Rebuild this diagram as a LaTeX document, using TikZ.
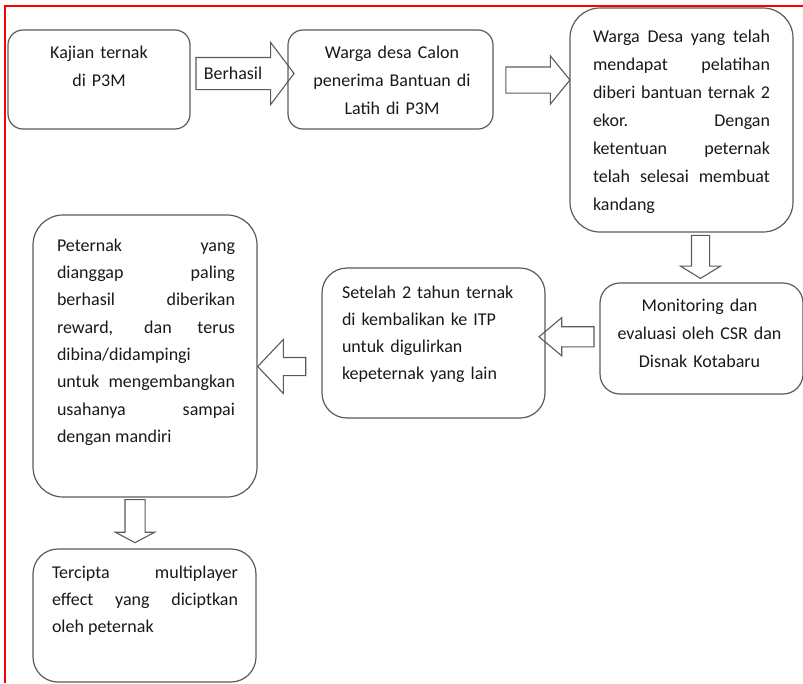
\documentclass[tikz,border=0pt]{standalone}
\usepackage{fontspec}
\setmainfont{Carlito}
\usetikzlibrary{calc, shapes.arrows}
\definecolor{linegray}{HTML}{5A5A5A}
\definecolor{framered}{HTML}{FF0000}
\tikzset{
  box/.style={draw=linegray, line width=1.2pt, inner sep=0pt},
  txt/.style={anchor=north, inner sep=0pt, text=black!90, font=\fontsize{18}{28}\selectfont},
  blockarrow/.style={single arrow, draw=linegray, line width=1.1pt, inner xsep=0pt,
    single arrow head indent=0pt},
}
\tolerance=10000
\hbadness=10000

\begin{document}
\begin{tikzpicture}[x=1pt, y=-1pt]
\useasboundingbox (0,0) rectangle (803,683);
\draw[framered, line width=1.5pt] (5,683) -- (5,6) -- (803,6);

% boxes
\node[box, rounded corners=15pt, minimum width=182, minimum height=99] (kajian) at (99,79.5) {};
\node[box, rounded corners=15pt, minimum width=205, minimum height=99] (warga) at (390.5,79.5) {};
\node[box, rounded corners=30pt, minimum width=223, minimum height=224] (pelatihan) at (681.5,120) {};
\node[box, rounded corners=20pt, minimum width=203, minimum height=111] (monitoring) at (701.5,338.5) {};
\node[box, rounded corners=25pt, minimum width=223, minimum height=150] (setelah) at (433.5,343) {};
\node[box, rounded corners=30pt, minimum width=224, minimum height=282] (peternak) at (145,356) {};
\node[box, rounded corners=25pt, minimum width=223, minimum height=133] (tercipta) at (144.5,615.5) {};

% texts
\node[txt, text width=170, align=center] (kajiantxt) at ($(kajian.north)+(0,16.4)$) {Kajian ternak\\ di P3M};
\node[txt, text width=192, align=center] (wargatxt) at ($(warga.north)+(1.5,16.4)$) {Warga desa Calon\\ penerima Bantuan di\\ Latih di P3M};
\node[txt, text width=177, align=justify] (pelatihantxt) at ($(pelatihan.north)+(0,22.7)$)
  {Warga Desa yang telah\linebreak mendapat pelatihan\linebreak diberi bantuan ternak 2\linebreak
   ekor. Dengan\linebreak ketentuan peternak\linebreak telah selesai membuat\linebreak kandang};
\node[txt, text width=192, align=center] (monitoringtxt) at ($(monitoring.north)+(-2,16.4)$)
  {Monitoring dan\\ evaluasi oleh CSR dan\\ Disnak Kotabaru};
\node[txt, text width=183, align=left, font=\fontsize{18}{27}\selectfont] (setelahtxt) at ($(setelah.north)+(0,18.4)$)
  {Setelah 2 tahun ternak\\ di kembalikan ke ITP\\ untuk digulirkan\\ kepeternak yang lain};
\node[txt, text width=178, align=justify, font=\fontsize{18}{27.3}\selectfont] (peternaktxt) at ($(peternak.north)+(1,24.1)$)
  {Peternak yang\linebreak dianggap paling\linebreak berhasil diberikan\linebreak reward, dan terus\linebreak
   dibina/didampingi\linebreak untuk mengembangkan\linebreak usahanya sampai\linebreak dengan mandiri};
\node[txt, text width=186, align=justify, font=\fontsize{18}{27}\selectfont] (terciptatxt) at ($(tercipta.north)+(0.5,17.4)$)
  {Tercipta multiplayer\linebreak effect yang diciptkan\linebreak oleh peternak};

% block arrows
\node[blockarrow, inner ysep=15.5pt, single arrow head extend=15pt, minimum height=98, single arrow tip angle=106]
  (a1) at ($(kajian.east)!.5!(warga.west)+(0,-6)$) {};
\node[inner sep=0pt, text=black!90, font=\fontsize{18}{28}\selectfont] (berhasil) at ($(a1)+(-6,0)$) {Berhasil};
\node[blockarrow, inner ysep=12.5pt, single arrow head extend=11pt, minimum height=64, single arrow tip angle=102]
  (a2) at ($(warga.east)+(39,0.5)$) {};
\node[blockarrow, inner xsep=8.5pt, inner ysep=0pt, single arrow head extend=11pt, minimum height=43, single arrow tip angle=117, shape border rotate=270]
  (a3) at ($(pelatihan.south)+(19,21.5)$) {};
\node[blockarrow, inner ysep=9.5pt, single arrow head extend=9pt, minimum height=55, single arrow tip angle=80, shape border rotate=180]
  (a4) at ($(setelah.east)!.5!(monitoring.west)+(0,-4)$) {};
\node[blockarrow, inner ysep=8.5pt, single arrow head extend=18pt, minimum height=48, single arrow tip angle=93, shape border rotate=180]
  (a5) at ($(peternak.east)!.5!(setelah.west)+(-3.5,17)$) {};
\node[blockarrow, inner xsep=9.5pt, inner ysep=0pt, single arrow head extend=9.5pt, minimum height=43, single arrow tip angle=124, shape border rotate=270]
  (a6) at ($(peternak.south)!.5!(tercipta.north)+(-9.75,-4.5)$) {};
\end{tikzpicture}
\end{document}
